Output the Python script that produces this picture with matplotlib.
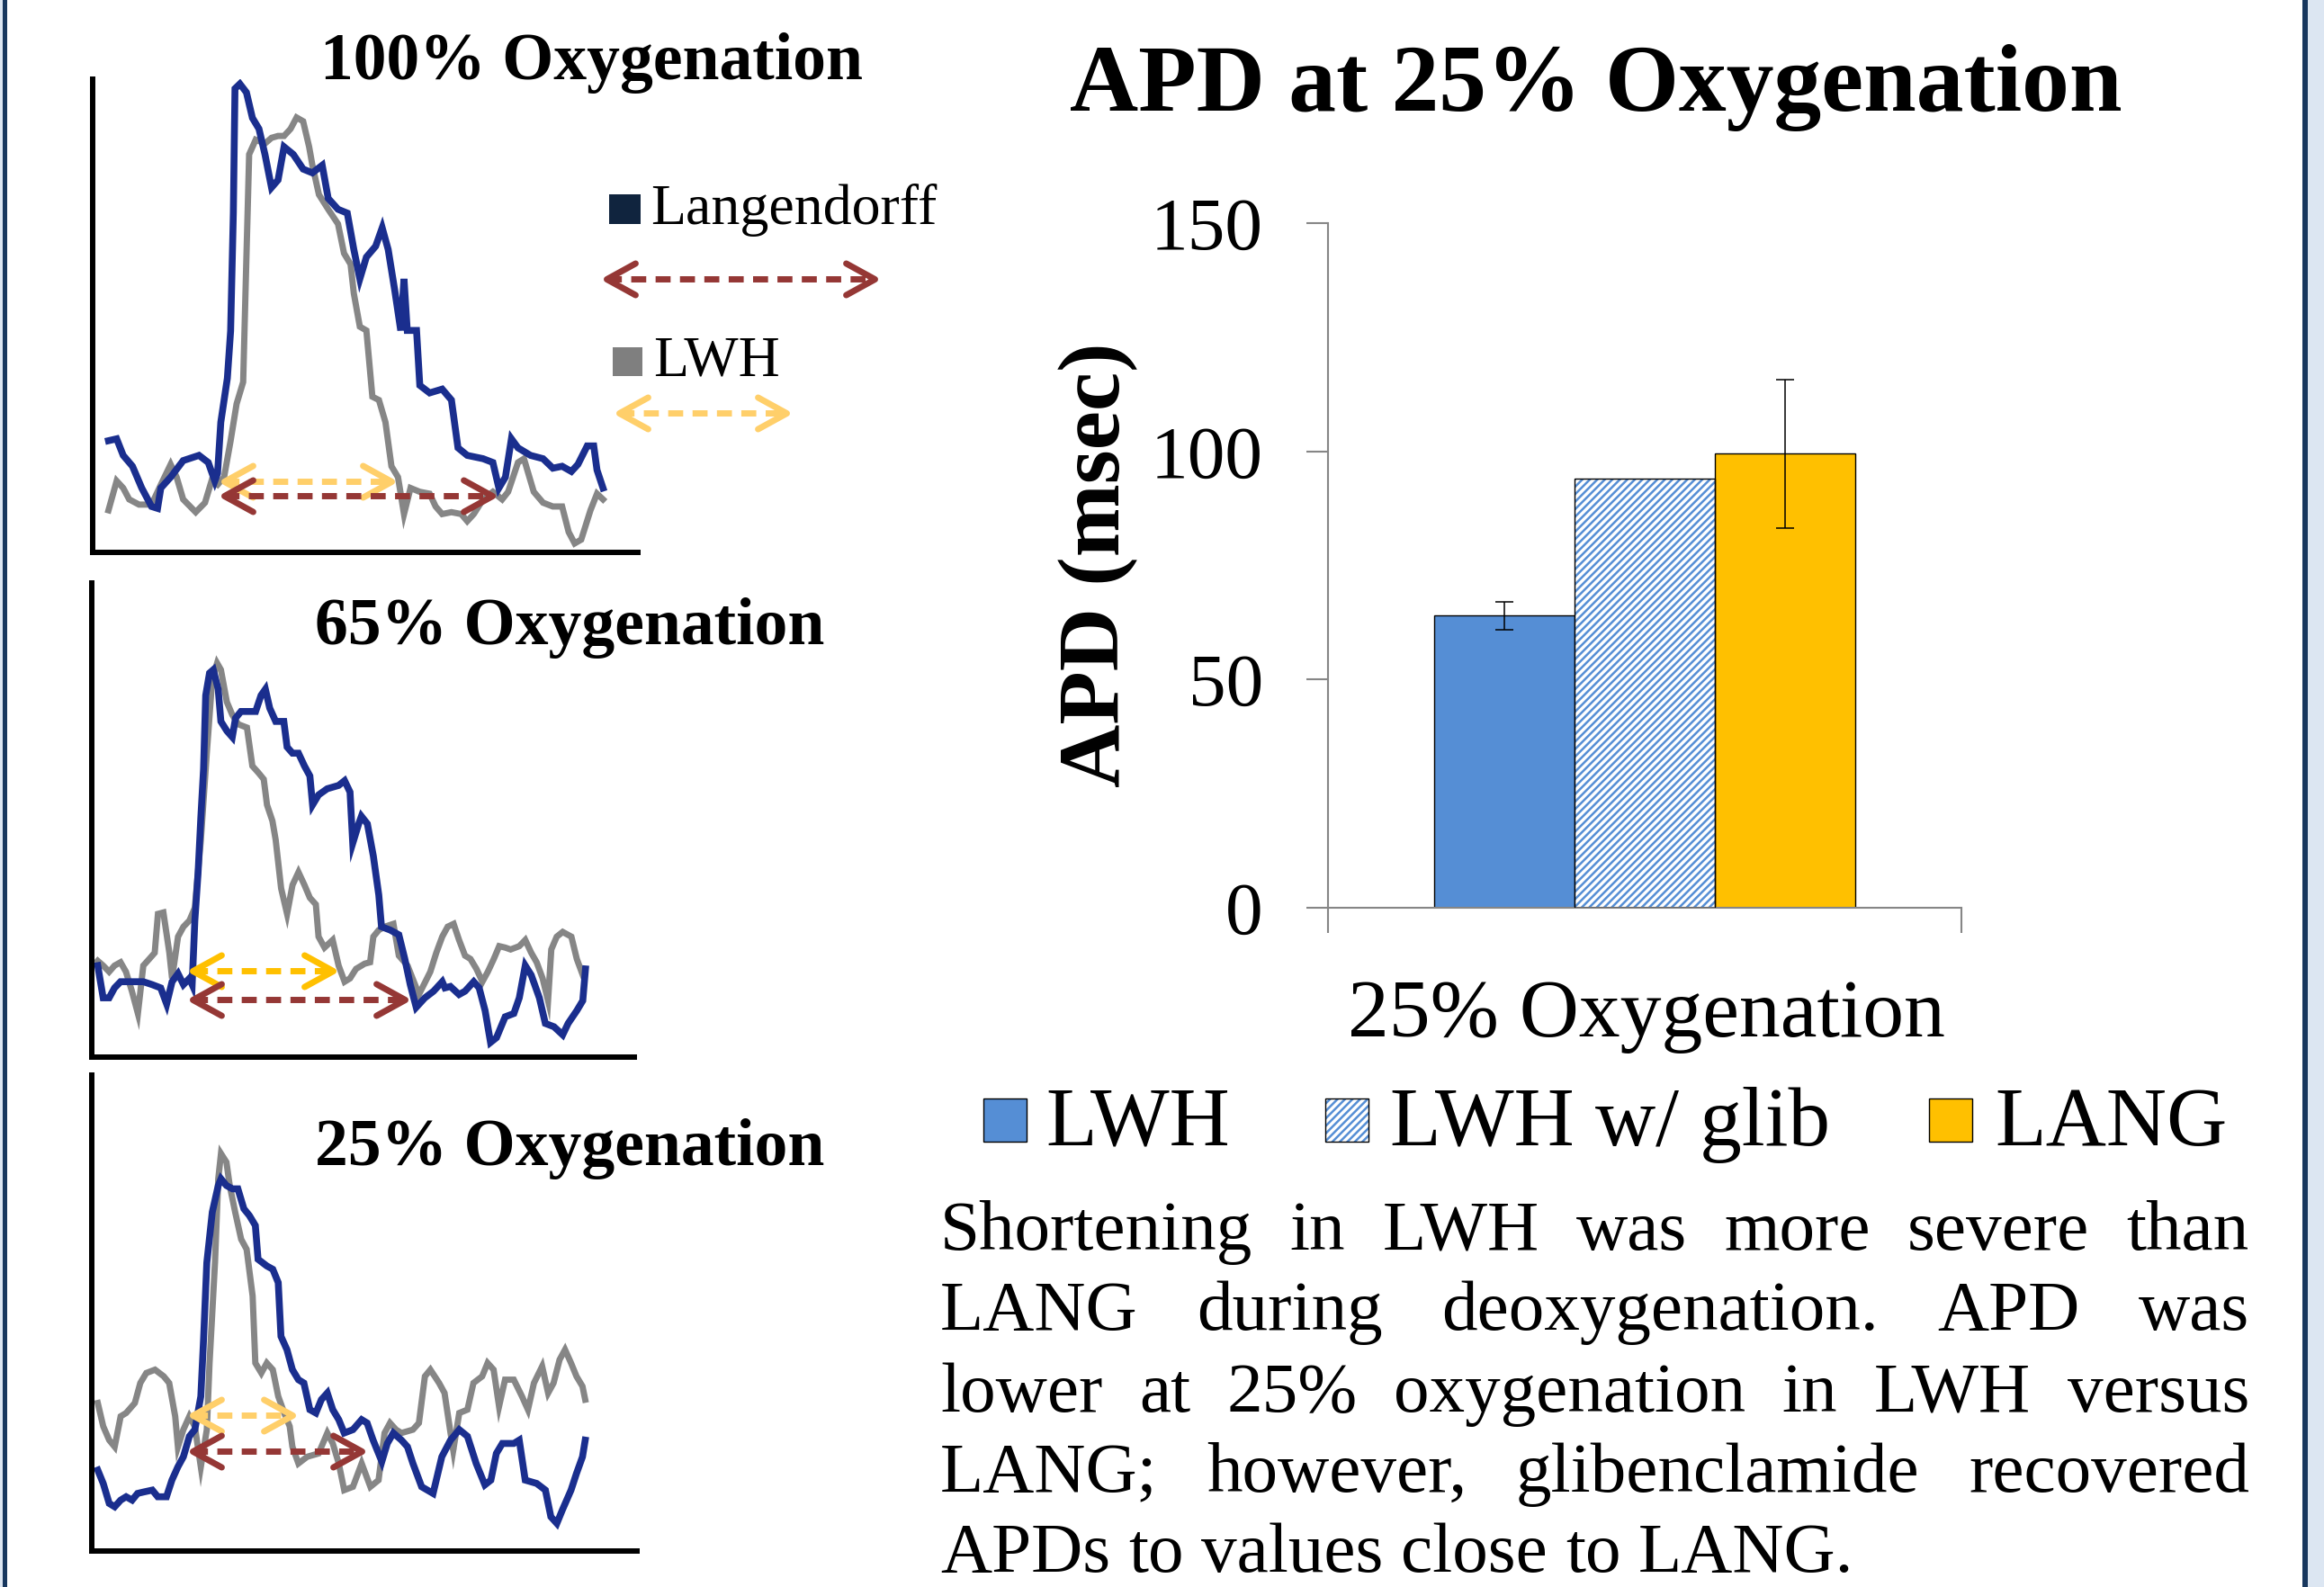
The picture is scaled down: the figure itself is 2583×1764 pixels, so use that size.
import numpy as np
import matplotlib
matplotlib.use("Agg")
import matplotlib.pyplot as plt
from matplotlib.markers import MarkerStyle
from matplotlib.patches import Rectangle

plt.rcParams['font.family'] = ['Liberation Serif', 'DejaVu Serif']
plt.rcParams['hatch.linewidth'] = 1.8

W, H = 2583, 1764
DPI = 100

# Optical action potential traces (time and amplitude in % of panel span)
t_100_lang = [2.9, 4.4, 5.6, 7.3, 9.0, 10.8, 11.9, 12.5, 14.3, 16.6, 19.5, 21.2, 22.4, 22.9, 23.5, 24.7, 25.3, 25.8, 26.1, 27.0,
              28.2, 29.3, 30.5, 31.6, 32.8, 34.0, 35.1, 36.8, 38.6, 40.3, 42.1, 43.2, 45.0, 46.7, 47.9, 49.0, 50.2, 51.9, 53.1, 54.2,
              55.4, 56.5, 57.1, 57.7, 59.4, 60.0, 61.8, 64.1, 65.8, 67.0, 68.7, 71.6, 73.4, 74.5, 75.7, 76.8, 78.0, 80.3, 82.6, 84.4,
              86.1, 87.8, 89.0, 90.7, 91.9, 92.5, 93.6]
a_100_lang = [23.6, 24.0, 20.5, 18.2, 13.6, 9.7, 9.3, 13.6, 15.9, 19.4, 20.5, 19.0, 15.1, 16.7, 27.5, 36.8, 46.8, 71.7, 98.0, 99.0,
              97.2, 91.8, 89.5, 84.1, 77.1, 78.7, 85.7, 84.1, 81.0, 80.2, 81.8, 74.8, 72.5, 71.7, 64.0, 57.8, 62.4, 64.7, 68.6, 64.0,
              55.4, 46.9, 57.8, 46.9, 46.9, 35.3, 33.7, 34.5, 32.2, 22.1, 20.5, 19.8, 19.0, 13.6, 15.9, 24.0, 22.1, 20.5, 19.8, 17.8,
              18.2, 17.1, 18.6, 22.5, 22.5, 17.4, 13.6]
t_100_lwh = [2.9, 4.4, 5.6, 6.7, 8.5, 10.8, 12.5, 14.3, 15.4, 16.6, 18.9, 20.6, 21.8, 22.9, 24.1, 25.3, 26.4, 27.6, 28.2, 28.7,
             29.9, 31.6, 32.8, 34.0, 35.1, 36.3, 37.4, 38.6, 39.7, 40.3, 41.5, 43.2, 45.0, 46.1, 47.3, 47.9, 49.0, 50.2, 51.3, 52.5,
             53.7, 54.8, 56.0, 57.1, 58.3, 60.0, 61.8, 62.9, 64.1, 65.8, 67.6, 68.7, 69.9, 71.6, 73.4, 75.1, 76.2, 78.0, 79.1, 80.9,
             82.6, 84.4, 86.1, 87.3, 88.4, 89.6, 91.3, 92.5, 93.6]
a_100_lwh = [8.9, 15.1, 13.6, 11.2, 10.1, 10.1, 14.3, 18.6, 15.9, 11.2, 8.5, 10.5, 15.1, 14.3, 15.9, 23.6, 31.4, 36.0, 62.4, 84.1,
             87.2, 86.4, 87.6, 88.0, 88.0, 89.5, 91.9, 91.1, 85.7, 81.8, 75.6, 72.5, 69.4, 63.2, 60.9, 54.7, 47.7, 46.9, 32.9, 32.2,
             27.5, 18.2, 15.9, 8.1, 13.6, 12.8, 12.4, 9.7, 8.1, 8.5, 8.1, 6.6, 8.1, 11.2, 12.8, 11.2, 12.8, 19.0, 19.8, 12.8,
             10.5, 9.7, 9.7, 4.3, 1.9, 2.7, 8.9, 12.4, 11.2]

t_65_lang = [1.1, 2.1, 3.2, 4.2, 5.3, 9.5, 11.1, 12.7, 13.8, 14.8, 15.9, 16.9, 18.0, 18.5, 19.0, 19.6, 20.1, 20.6, 21.0, 21.7,
             22.4, 23.3, 23.8, 24.9, 25.9, 26.5, 27.5, 30.2, 31.2, 32.0, 32.8, 33.9, 35.4, 36.0, 37.0, 38.1, 39.2, 40.2, 40.7, 41.8,
             43.4, 45.5, 46.6, 47.6, 48.1, 49.2, 49.7, 50.8, 51.9, 52.9, 53.4, 55.0, 56.6, 57.7, 58.7, 59.8, 61.4, 63.0, 64.6, 65.1,
             66.1, 67.7, 68.8, 70.4, 71.4, 72.5, 73.5, 74.6, 76.2, 77.8, 78.8, 79.9, 81.0, 82.5, 83.6, 85.2, 86.8, 87.8, 89.4, 90.5,
             91.0]
a_65_lang = [19.3, 12.5, 12.5, 14.6, 15.9, 15.9, 15.3, 14.6, 11.2, 15.9, 17.6, 15.3, 16.6, 15.3, 28.8, 39.0, 50.5, 60.7, 76.3, 81.0,
             81.7, 77.6, 70.8, 68.8, 67.5, 71.5, 72.9, 72.9, 76.3, 77.6, 73.6, 70.8, 70.8, 65.4, 64.1, 64.1, 61.4, 59.3, 53.2, 55.3,
             56.6, 57.3, 58.3, 55.9, 45.1, 49.2, 50.8, 49.2, 42.4, 34.2, 27.5, 26.8, 25.8, 20.7, 15.3, 10.5, 12.5, 13.9, 15.9, 14.6,
             14.9, 13.2, 13.9, 15.9, 14.6, 9.8, 3.1, 4.1, 8.5, 9.2, 12.5, 19.3, 17.3, 12.5, 7.1, 6.4, 4.7, 7.1, 9.8, 11.9,
             18.6]
t_65_lwh = [1.1, 2.1, 3.2, 4.2, 5.3, 6.3, 7.4, 8.5, 9.5, 10.6, 11.6, 12.2, 13.2, 14.3, 14.8, 15.9, 16.9, 18.0, 19.0, 20.1,
            21.2, 22.2, 23.1, 23.8, 24.9, 25.9, 27.0, 28.6, 29.6, 30.7, 31.7, 32.3, 33.3, 33.9, 34.9, 36.0, 37.0, 38.1, 39.2, 40.2,
            41.3, 41.8, 42.9, 44.4, 45.5, 46.6, 47.6, 48.7, 50.3, 51.3, 51.9, 52.9, 54.0, 55.6, 56.6, 58.2, 60.3, 62.4, 63.5, 64.6,
            65.6, 66.7, 67.7, 68.8, 69.8, 70.9, 72.0, 73.0, 74.1, 75.1, 76.2, 77.2, 78.8, 79.9, 81.0, 82.0, 83.1, 84.1, 84.7, 85.7,
            86.8, 88.4, 89.4, 90.5]
a_65_lwh = [20.3, 19.3, 18.0, 19.3, 20.0, 18.0, 13.9, 9.2, 19.3, 20.7, 22.0, 30.2, 30.5, 22.0, 16.6, 25.4, 27.5, 28.8, 31.5, 45.8,
            64.1, 79.7, 83.1, 81.7, 74.9, 72.2, 70.2, 69.5, 61.4, 60.0, 58.6, 53.2, 49.8, 45.8, 35.6, 30.2, 36.3, 39.0, 36.3, 33.6,
            32.2, 25.4, 23.1, 24.7, 19.3, 15.9, 16.6, 18.6, 19.7, 20.0, 25.4, 26.8, 27.5, 28.1, 21.4, 19.3, 13.2, 18.0, 22.0, 25.4,
            27.5, 28.1, 24.7, 21.4, 20.7, 18.6, 15.9, 18.0, 20.7, 23.4, 23.1, 22.7, 23.4, 24.7, 22.0, 20.0, 16.6, 11.9, 22.7, 25.4,
            26.4, 25.4, 20.7, 17.3]

t_25_lang = [1.1, 2.1, 3.2, 4.2, 5.3, 6.3, 7.4, 8.4, 9.5, 11.1, 12.1, 13.7, 14.7, 15.8, 16.8, 17.9, 18.9, 20.0, 20.5, 21.1,
             22.1, 23.2, 23.7, 24.7, 25.8, 26.8, 27.9, 28.9, 30.0, 30.5, 32.1, 33.2, 34.2, 34.7, 35.8, 36.8, 37.9, 38.9, 40.0, 41.1,
             42.1, 43.2, 44.2, 45.3, 46.3, 47.9, 49.5, 50.5, 51.6, 53.2, 54.2, 55.3, 56.8, 57.9, 58.9, 60.5, 62.6, 64.2, 65.8, 67.4,
             68.9, 70.5, 72.1, 73.2, 74.2, 75.3, 77.4, 78.4, 79.5, 81.6, 83.2, 84.2, 85.3, 86.3, 87.9, 88.9, 90.0, 90.5]
a_25_lang = [17.0, 14.2, 10.0, 9.3, 10.7, 11.4, 10.7, 12.1, 12.4, 12.8, 11.4, 11.4, 14.9, 17.7, 19.8, 24.1, 25.5, 32.5, 44.4, 60.6,
             71.2, 76.8, 78.2, 76.8, 76.1, 76.1, 71.9, 70.5, 68.4, 61.3, 59.9, 59.2, 56.4, 45.1, 42.3, 38.1, 36.0, 35.3, 29.7, 29.0,
             31.8, 33.2, 29.7, 27.6, 24.8, 25.5, 27.6, 26.9, 23.3, 18.8, 22.6, 24.8, 23.3, 21.9, 18.4, 13.5, 12.1, 19.8, 23.3, 25.5,
             24.1, 18.4, 13.9, 14.9, 20.5, 22.6, 22.6, 23.3, 14.9, 14.2, 12.8, 7.2, 5.8, 8.6, 12.8, 16.3, 19.8, 23.3]
t_25_lwh = [1.1, 2.1, 3.2, 4.2, 5.3, 6.3, 7.9, 8.9, 10.0, 11.6, 13.2, 14.2, 15.3, 15.8, 16.8, 17.9, 18.9, 20.0, 21.1, 21.6,
            22.6, 23.2, 23.7, 24.7, 25.3, 26.3, 27.4, 28.4, 29.5, 30.0, 31.1, 32.1, 33.2, 34.2, 35.3, 36.3, 36.8, 37.9, 39.5, 41.6,
            43.2, 44.2, 45.3, 46.3, 47.9, 49.5, 51.1, 52.6, 53.7, 54.7, 55.8, 56.8, 58.9, 60.0, 61.1, 62.1, 63.7, 64.7, 65.8, 66.3,
            67.4, 68.9, 70.0, 71.6, 72.6, 73.7, 74.7, 75.8, 77.4, 78.9, 80.0, 81.1, 82.6, 83.7, 84.7, 85.8, 86.8, 87.9, 88.9, 90.0,
            90.5]
a_25_lwh = [31.1, 26.2, 23.3, 21.9, 28.3, 29.0, 31.1, 35.3, 37.4, 38.1, 36.7, 35.3, 28.3, 21.9, 25.5, 28.3, 26.2, 17.7, 25.5, 39.5,
            60.6, 78.2, 83.5, 81.7, 76.8, 71.2, 65.5, 63.4, 53.6, 39.5, 37.4, 39.5, 38.1, 32.5, 29.0, 26.2, 21.9, 18.4, 19.8, 20.5,
            24.8, 22.6, 18.4, 12.8, 13.5, 18.4, 13.5, 14.9, 24.8, 26.9, 25.5, 24.8, 25.5, 26.9, 36.7, 38.1, 35.3, 33.2, 24.8, 21.2,
            29.0, 29.7, 35.3, 36.7, 39.5, 38.1, 30.4, 36.0, 36.0, 32.5, 29.7, 35.3, 38.8, 33.2, 35.3, 40.2, 42.3, 39.5, 36.7, 34.6,
            31.8]

# APD markers on the traces (start, end, level)
lwh_apd_start = [24.1, 18.5, 18.4]
lwh_apd_end = [54.8, 44.4, 36.8]
lwh_apd_level = [15.1, 18.3, 28.6]
lang_apd_start = [24.1, 18.5, 18.4]
lang_apd_end = [73.3, 57.7, 49.5]
lang_apd_level = [12.0, 12.2, 20.9]

panel_titles = ["100% Oxygenation", "65% Oxygenation", "25% Oxygenation"]

# Bar chart data
groups = ["LWH", "LWH w/ glib", "LANG"]
apd_values = [64.0, 94.0, 99.5]
apd_errors = [3.0, None, 16.3]
yticks = [0, 50, 100, 150]

paragraph = ["Shortening in LWH was more severe than",
             "LANG during deoxygenation. APD was",
             "lower at 25% oxygenation in LWH versus",
             "LANG; however, glibenclamide recovered",
             "APDs to values close to LANG."]

BLUE_TRACE = '#1A2E8E'
GREY_TRACE = '#868686'
RED_ARROW = '#953735'
YELLOW = '#FFC000'
YELLOW_LIGHT = '#FFCF6A'
BAR_BLUE = '#558ED5'
AXIS_GREY = '#868686'


def px_box(x0, y0, x1, y1):
    return [x0 / W, 1 - y1 / H, (x1 - x0) / W, (y1 - y0) / H]


chev_left = MarkerStyle(np.array([[1, 0.55], [0, 0], [1, -0.55]]), capstyle='round', joinstyle='round')
chev_right = MarkerStyle(np.array([[-1, 0.55], [0, 0], [-1, -0.55]]), capstyle='round', joinstyle='round')


def draw_apd(ax, x0, x1, y, color):
    ax.plot([x0, x1], [y, y], color=color, lw=5, ls=(0, (2.4, 1.5)),
            dash_capstyle='butt', clip_on=False, zorder=5)
    ax.plot([x0], [y], ls='none', marker=chev_left, ms=46, mew=5, mec=color, mfc='none', clip_on=False, zorder=5)
    ax.plot([x1], [y], ls='none', marker=chev_right, ms=46, mew=5, mec=color, mfc='none', clip_on=False, zorder=5)


fig = plt.figure(figsize=(W / DPI, H / DPI), dpi=DPI, facecolor='white')

# overlay in pixel units for titles, legends and text
ov = fig.add_axes([0, 0, 1, 1])
ov.set_xlim(0, W)
ov.set_ylim(H, 0)
ov.axis('off')
ov.patch.set_alpha(0)

# page border
ov.add_patch(Rectangle((0, 0), 3, H, color='#DCE6F2', lw=0))
ov.add_patch(Rectangle((3, 0), 5, H, color='#17375E', lw=0))
ov.add_patch(Rectangle((2559, 0), 6, H, color='#17375E', lw=0))
ov.add_patch(Rectangle((2565, 0), 18, H, color='#DCE6F2', lw=0))

# ---- trace panels ----
panel_boxes = [(103, 88, 709, 614), (102, 648, 705, 1175), (102, 1195, 708, 1724)]
title_pos = [(657, 88), (633, 716), (633, 1295)]
traces = [(t_100_lang, a_100_lang, t_100_lwh, a_100_lwh),
          (t_65_lang, a_65_lang, t_65_lwh, a_65_lwh),
          (t_25_lang, a_25_lang, t_25_lwh, a_25_lwh)]
lwh_colors = [YELLOW_LIGHT, YELLOW, YELLOW_LIGHT]

for i, (tb, ab, tg, ag) in enumerate(traces):
    ax = fig.add_axes(px_box(*panel_boxes[i]))
    ax.patch.set_alpha(0)
    ax.plot(tg, ag, color=GREY_TRACE, lw=5, solid_joinstyle='miter')
    ax.plot(tb, ab, color=BLUE_TRACE, lw=5.5, solid_joinstyle='miter')
    draw_apd(ax, lwh_apd_start[i], lwh_apd_end[i], lwh_apd_level[i], lwh_colors[i])
    draw_apd(ax, lang_apd_start[i], lang_apd_end[i], lang_apd_level[i], RED_ARROW)
    ax.set_xlim(0, 100)
    ax.set_ylim(0, 100)
    ax.set_xticks([])
    ax.set_yticks([])
    for s in ['top', 'right']:
        ax.spines[s].set_visible(False)
    for s in ['left', 'bottom']:
        ax.spines[s].set_linewidth(4.3)
        ax.spines[s].set_color('black')
        ax.spines[s].set_capstyle('projecting')
    ov.text(title_pos[i][0], title_pos[i][1], panel_titles[i], fontsize=53, fontweight='bold',
            ha='center', va='baseline')

# legend of trace panels
ov.add_patch(Rectangle((677, 216), 35, 33, color='#10243E', lw=0))
ov.text(723, 249, "Langendorff", fontsize=46, va='baseline')
draw_apd(ov, 674, 972, 310, RED_ARROW)
ov.add_patch(Rectangle((681, 386), 33, 32, color='#7F7F7F', lw=0))
ov.text(726, 418, "LWH", fontsize=46, va='baseline')
draw_apd(ov, 688, 874, 459, YELLOW_LIGHT)

# ---- bar chart ----
axb = fig.add_axes(px_box(1476, 248, 2180, 1009))
axb.patch.set_alpha(0)
bar_w = 0.2216
bar_x = np.array([-1, 0, 1]) * bar_w
axb.bar(bar_x[0], apd_values[0], bar_w, color=BAR_BLUE, edgecolor='black', lw=1, zorder=2)
axb.bar(bar_x[1], apd_values[1], bar_w, color='white', hatch='////', edgecolor=BAR_BLUE, lw=0, zorder=2)
axb.bar(bar_x[1], apd_values[1], bar_w, fill=False, edgecolor='black', lw=1, zorder=3)
axb.bar(bar_x[2], apd_values[2], bar_w, color=YELLOW, edgecolor='black', lw=1, zorder=2)
for x, v, e in zip(bar_x, apd_values, apd_errors):
    if e:
        axb.errorbar(x, v, yerr=e, fmt='none', ecolor='black', elinewidth=1.1, capsize=7, capthick=1.1, zorder=4)
axb.set_xlim(-0.5, 0.5)
axb.set_ylim(0, 150)
axb.set_yticks(yticks)
axb.set_xticks([-0.5, 0.5])
axb.set_xticklabels([])
axb.tick_params(axis='y', labelsize=60, pad=35, length=17, width=1.5, color=AXIS_GREY, direction='out')
axb.tick_params(axis='x', length=20, width=1.5, color=AXIS_GREY, direction='out')
for s in ['top', 'right']:
    axb.spines[s].set_visible(False)
for s in ['left', 'bottom']:
    axb.spines[s].set_color(AXIS_GREY)
    axb.spines[s].set_linewidth(1.5)

ov.text(1774, 123, "APD at 25% Oxygenation", fontsize=76, fontweight='bold', ha='center', va='baseline')
ov.text(1221, 628, "APD (msec)", fontsize=70, fontweight='bold', rotation=90, ha='center', va='center')
ov.text(1830, 1152, "25% Oxygenation", fontsize=66, ha='center', va='baseline')

# bar legend
leg_sq = [1093, 1473, 2144]
leg_tx = [1162, 1545, 2217]
ov.add_patch(Rectangle((leg_sq[0], 1221), 48, 48, facecolor=BAR_BLUE, edgecolor='black', lw=1))
ov.add_patch(Rectangle((leg_sq[1], 1221), 48, 48, facecolor='white', hatch='////', edgecolor=BAR_BLUE, lw=0))
ov.add_patch(Rectangle((leg_sq[1], 1221), 48, 48, fill=False, edgecolor='black', lw=1))
ov.add_patch(Rectangle((leg_sq[2], 1221), 48, 48, facecolor=YELLOW, edgecolor='black', lw=1))
for x, name in zip(leg_tx, groups):
    ov.text(x, 1273, name, fontsize=67, va='baseline')

# justified paragraph
left, right = 1045, 2500
baselines = [1389, 1478, 1569, 1658, 1747]
renderer = fig.canvas.get_renderer()
for k, (line, base) in enumerate(zip(paragraph, baselines)):
    words = line.split()
    objs = [ov.text(0, base, w, fontsize=57, va='baseline') for w in words]
    widths = [o.get_window_extent(renderer).width for o in objs]
    if k < len(paragraph) - 1:
        gap = (right - left - sum(widths)) / (len(words) - 1)
    else:
        gap = 57 * DPI / 72 * 0.25
    x = left
    for o, w in zip(objs, widths):
        o.set_x(x)
        x += w + gap

fig.savefig("out.png", dpi=DPI, facecolor='white')
